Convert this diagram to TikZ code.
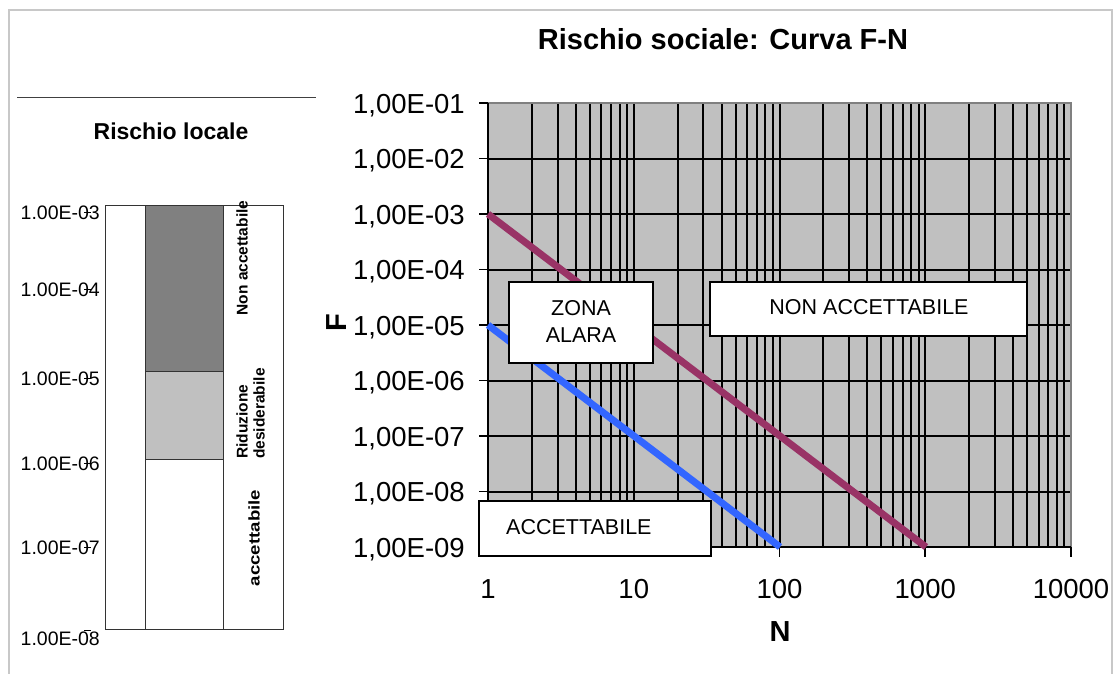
\documentclass[tikz,border=0pt]{standalone}
\usepackage{fontspec}
\setmainfont{Liberation Sans}
\usepackage{graphicx}
\definecolor{plotgray}{HTML}{C0C0C0}
\definecolor{darkband}{HTML}{808080}
\definecolor{framegray}{HTML}{C8C8C8}
\definecolor{lineblue}{HTML}{3366FF}
\definecolor{linepurple}{HTML}{993366}
\begin{document}
\begin{tikzpicture}[x=1pt,y=-1pt,
  ylab/.style={anchor=base east,inner sep=0pt,font=\fontsize{27.5}{30}\selectfont},
  xlab/.style={anchor=base,inner sep=0pt,font=\fontsize{27.5}{30}\selectfont},
  llab/.style={anchor=base east,inner sep=0pt,font=\fontsize{19.5}{21}\selectfont},
  zonebox/.style={draw=black,line width=2pt,fill=white,inner sep=0pt},
  ztext/.style={font=\fontsize{21.5}{27}\selectfont,align=center},
  vlab/.style={rotate=90,font=\bfseries\fontsize{15.5}{17}\selectfont,inner sep=0pt,align=left},
  gridline/.style={black,line width=2pt},
  tickline/.style={black,line width=1.8pt},
]
\useasboundingbox (0,0) rectangle (1113,673);
\fill[white] (0,0) rectangle (1113,673);
% outer frame
\draw[framegray,line width=1.5pt] (9,690) -- (9,10) -- (1112,10) -- (1112,690);

% ---------------- left panel ----------------
\draw[black!75,line width=1pt] (17,97) -- (316,97);
\node[font=\bfseries\fontsize{23}{25}\selectfont,inner sep=0pt] (ltitle) at (171,131) {Rischio locale};
\fill[darkband] (145,205) rectangle (223,371);
\fill[plotgray] (145,371) rectangle (223,459);
\draw[black!80,line width=1pt] (105,205) rectangle (283,629);
\draw[black!80,line width=1pt] (145,205) -- (145,629) (223,205) -- (223,629)
  (145,371) -- (223,371) (145,459) -- (223,459);
\foreach \lab/\yy/\ty [count=\i] in {03/212/212,04/289/289,05/378/378,06/463/463,07/547/547,08/638/630}{
  \node[llab] (ll\i) at (100,\yy+7) {1.00E-\lab};
  \draw[black,line width=0.8pt] (84,\ty) -- (91,\ty);
}
\node[vlab] (vnon) at (242,258) {Non accettabile};
\node[vlab,anchor=south west] (vrid) at (265,459) {Riduzione\\desiderabile};
\node[vlab] (vacc) at (254,538) {\scalebox{1.2}[1]{accettabile}};

% ---------------- right chart ----------------
\node[font=\bfseries\fontsize{29}{31}\selectfont,inner sep=0pt,anchor=base] (rtitle) at (723,49) {Rischio sociale: Curva F-N};
\fill[plotgray] (488,103) rectangle (1071,547);
% vertical grid lines (log minor)
\foreach \d in {0,1,2,3}{
  \foreach \k in {2,...,9}{
    \pgfmathsetmacro{\xx}{488+145.75*(\d+log10(\k))}
    \draw[gridline] (\xx,103) -- (\xx,547);
  }
}
\foreach \d in {1,2,3}{
  \draw[gridline] ({488+145.75*\d},103) -- ({488+145.75*\d},547);
}
% horizontal grid lines
\foreach \i in {1,...,7}{
  \draw[gridline] (488,{103+55.5*\i}) -- (1071,{103+55.5*\i});
}
% border
\draw[darkband,line width=2pt] (488,103) -- (1071,103) -- (1071,547);
\draw[black,line width=2pt] (488,103) -- (488,547) -- (1071,547);
% ticks and labels
\foreach \lab [count=\i from 0] in {01,02,03,04,05,06,07,08,09}{
  \draw[tickline] (479,{103+55.5*\i}) -- (488,{103+55.5*\i});
  \node[ylab] (yl\i) at (465,{103+55.5*\i+10}) {1,00E-\lab};
}
\foreach \lab [count=\i from 0] in {1,10,100,1000,10000}{
  \draw[tickline] ({488+145.75*\i},547) -- ({488+145.75*\i},557);
  \node[xlab] (xl\i) at ({488+145.75*\i},598) {\lab};
}
\node[font=\bfseries\fontsize{29}{31}\selectfont,inner sep=0pt,anchor=base] (naxis) at (780,641) {N};
\node[font=\bfseries\fontsize{29}{31}\selectfont,inner sep=0pt,rotate=90] (faxis) at (337,323) {F};
% curves
\coordinate (p1) at (488,214);
\coordinate (p2) at (926,547);
\coordinate (b1) at (488,325);
\coordinate (b2) at (780,547);
\draw[linepurple,line width=7pt] (p1) -- (p2);
\draw[lineblue,line width=7pt] (b1) -- (b2);
% zone boxes
\node[zonebox,minimum width=144pt,minimum height=81pt] (alara) at (581,322.5) {};
\node[ztext] (alaratxt) at (581,321) {ZONA\\ALARA};
\node[zonebox,minimum width=317pt,minimum height=54pt] (nonacc) at (868.5,309) {};
\node[ztext] (nonacctxt) at (869,307.5) {NON ACCETTABILE};
\node[zonebox,minimum width=232pt,minimum height=55pt] (acc) at (595,528.5) {};
\node[ztext,anchor=west,inner sep=0pt] (acctxt) at (506,527) {ACCETTABILE};
\end{tikzpicture}
\end{document}
